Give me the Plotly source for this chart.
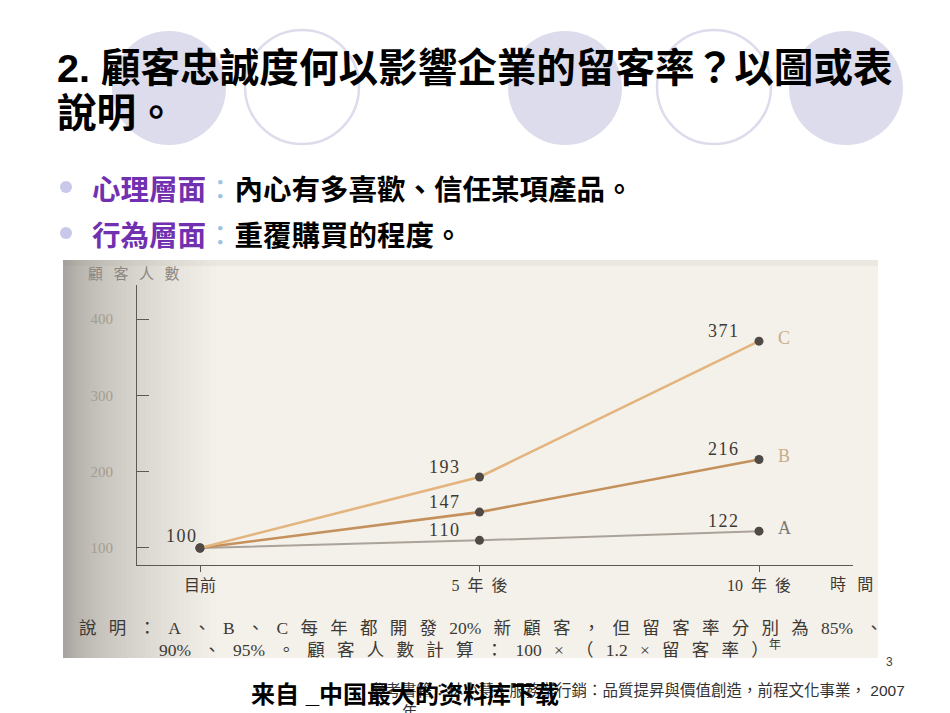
import plotly.graph_objects as go

# ---------------- data ----------------
periods = ["目前", "5 年 後", "10 年 後"]
series_names = ["A", "B", "C"]
values_A = [100, 110, 122]
values_B = [100, 147, 216]
values_C = [100, 193, 371]
y_tick_values = [100, 200, 300, 400]
y_tick_labels = ["100", "200", "300", "400"]

title_lines = ["2. 顧客忠誠度何以影響企業的留客率？以圖或表", "說明。"]
bullet_heads = ["心理層面", "行為層面"]
bullet_bodies = ["內心有多喜歡、信任某項產品。", "重覆購買的程度。"]
y_title = "顧客人數"
x_title = "時間"
caption_1 = "說 明 ： A 、 B 、 C 每 年 都 開 發 20% 新 顧 客 ， 但 留 客 率 分 別 為 85% 、"
caption_2 = "90% 、 95% 。 顧 客 人 數 計 算 ： 100 × （ 1.2 × 留 客 率 ）"
caption_sup = "年"
footer_main = "来自 _中国最大的资料库下载"
footer_ref = "參考書籍：林小慧，服務業行銷：品質提昇與價值創造，前程文化事業， 2007"
footer_ref_2 = "年"
page_no = "3"

# ---------------- helpers ----------------
W, H = 950, 713


def px(x):
    return x / W


def py(y):
    return 1 - y / H


def spaced(s, sep="\u2002\u2009"):
    return s.replace(" ", sep)


series_values = [values_A, values_B, values_C]
line_colors = ["#aaa39a", "#c4915c", "#e3b47e"]
line_widths = [2.0, 2.6, 2.6]
letter_colors = ["#7d7872", "#c8ad86", "#c8ad86"]

CJK_TC = "Noto Sans CJK TC"
SERIF = "Liberation Serif, Noto Sans CJK TC"

fig = go.Figure()

for name, vals, col, lw in zip(series_names, series_values, line_colors, line_widths):
    fig.add_trace(go.Scatter(
        x=periods, y=vals, mode="lines+markers", name=name,
        line=dict(color=col, width=lw),
        marker=dict(color="#4f4a45", size=9),
        showlegend=False, hoverinfo="x+y",
    ))

shapes = []
# scanned image background
shapes.append(dict(type="rect", xref="paper", yref="paper", layer="below",
                   x0=px(63), x1=px(878), y0=py(658), y1=py(260),
                   line=dict(width=0), fillcolor="#f4f1ea"))
# left darkening gradient of the scan (many thin overlapping bands)
n_g = 40
for k in range(n_g):
    w = 3 + 150 * ((k + 1) / n_g) ** 1.8
    shapes.append(dict(type="rect", xref="paper", yref="paper", layer="below",
                       x0=px(63), x1=px(63 + w), y0=py(658), y1=py(260),
                       line=dict(width=0), fillcolor="rgba(125,115,100,0.012)"))
# top shading strip
shapes.append(dict(type="rect", xref="paper", yref="paper", layer="below",
                   x0=px(63), x1=px(878), y0=py(266), y1=py(260),
                   line=dict(width=0), fillcolor="rgba(120,110,95,0.07)"))
# decorative circles
R = 57
circle_centers = [(169, 88, True), (302, 87, False), (565, 88, True), (714, 87, False), (846, 88, True)]
for cx, cy, filled in circle_centers:
    if filled:
        shapes.append(dict(type="circle", xref="paper", yref="paper", layer="below",
                           x0=px(cx - R), x1=px(cx + R), y0=py(cy + R), y1=py(cy - R),
                           line=dict(width=0), fillcolor="#dcdcec"))
    else:
        shapes.append(dict(type="circle", xref="paper", yref="paper", layer="below",
                           x0=px(cx - R), x1=px(cx + R), y0=py(cy + R), y1=py(cy - R),
                           line=dict(width=2.5, color="#dcdcec"), fillcolor="rgba(0,0,0,0)"))
# bullet dots
for i in range(len(bullet_heads)):
    by = 187 + 46 * i
    shapes.append(dict(type="circle", xref="paper", yref="paper", layer="above",
                       x0=px(60), x1=px(72), y0=py(by + 6), y1=py(by - 6),
                       line=dict(width=0), fillcolor="#c8c8ea"))

ann = []
# title
for i, t in enumerate(title_lines):
    ann.append(dict(text="<b>" + t + "</b>", xref="paper", yref="paper",
                    x=px(55), y=py(68 + 45 * i), xanchor="left", yanchor="middle",
                    showarrow=False, font=dict(family="Liberation Sans, " + CJK_TC, size=39.6, color="#000000")))
# bullets
for i, (hd, bd) in enumerate(zip(bullet_heads, bullet_bodies)):
    txt = ("<b><span style='color:#7030b0'>" + hd + "</span></b>"
           "<span style='color:#9cc3e6'>：</span><b>" + bd + "</b>")
    ann.append(dict(text=txt, xref="paper", yref="paper",
                    x=px(90), y=py(187 + 46 * i), xanchor="left", yanchor="middle",
                    showarrow=False, font=dict(family=CJK_TC, size=28.5, color="#000000")))

# data value labels
ann.append(dict(text="\u200a".join(str(values_A[0])), x=periods[0], y=values_A[0], xref="x", yref="y",
                xshift=-19, yshift=12, showarrow=False,
                font=dict(family=SERIF, size=18, color="#3d3935")))
for vals in series_values:
    for j in (1, 2):
        ann.append(dict(text="\u200a".join(str(vals[j])), x=periods[j], y=vals[j], xref="x", yref="y",
                        xshift=-36, yshift=10, showarrow=False,
                        font=dict(family=SERIF, size=18, color="#3d3935")))
for name, vals, lc in zip(series_names, series_values, letter_colors):
    ann.append(dict(text=name, x=periods[-1], y=vals[-1], xref="x", yref="y",
                    xshift=25, yshift=3, showarrow=False,
                    font=dict(family=SERIF, size=18, color=lc)))

# axis titles
ann.append(dict(text=spaced(" ".join(y_title)), xref="paper", yref="paper", x=px(134), y=py(272),
                xanchor="center", yanchor="middle", showarrow=False,
                font=dict(family=CJK_TC, size=15, color="#8c8782")))
ann.append(dict(text=spaced(" ".join(x_title)), xref="paper", yref="paper", x=px(851), y=py(583),
                xanchor="center", yanchor="middle", showarrow=False,
                font=dict(family=CJK_TC, size=16, color="#3d3935")))
# caption
ann.append(dict(text=spaced(caption_1), xref="paper", yref="paper", x=px(77), y=py(628),
                xanchor="left", yanchor="middle", showarrow=False,
                font=dict(family=SERIF, size=17.5, color="#3d3935")))
ann.append(dict(text=spaced(caption_2) + "<sup>" + caption_sup + "</sup>", xref="paper", yref="paper",
                x=px(157), y=py(649), xanchor="left", yanchor="middle", showarrow=False,
                font=dict(family=SERIF, size=17.5, color="#3d3935")))
# page number & footer
ann.append(dict(text=page_no, xref="paper", yref="paper", x=px(889), y=py(662),
                xanchor="center", yanchor="middle", showarrow=False,
                font=dict(family="Liberation Sans", size=12, color="#444444")))
ann.append(dict(text=footer_ref, xref="paper", yref="paper", x=px(368), y=py(690),
                xanchor="left", yanchor="middle", showarrow=False,
                font=dict(family="Liberation Sans, " + CJK_TC, size=15.5, color="#333333")))
ann.append(dict(text=footer_ref_2, xref="paper", yref="paper", x=px(400), y=py(711),
                xanchor="left", yanchor="middle", showarrow=False,
                font=dict(family=CJK_TC, size=15.5, color="#333333")))
ann.append(dict(text="<b>" + footer_main + "</b>", xref="paper", yref="paper", x=px(249), y=py(694),
                xanchor="left", yanchor="middle", showarrow=False,
                font=dict(family="Liberation Sans, Noto Sans CJK SC", size=24, color="#000000")))

# axis geometry (pixels of scanned chart)
x_left_px, x_right_px = 137, 853
y_top_px, y_bottom_px = 285, 565
x_range = [-0.2254, 2.3363]
y_range = [77.7, 444.6]

axis_col = "#5d5853"
fig.update_layout(
    width=W, height=H,
    margin=dict(l=0, r=0, t=0, b=0),
    paper_bgcolor="#ffffff", plot_bgcolor="rgba(0,0,0,0)",
    shapes=shapes, annotations=ann,
    xaxis=dict(domain=[px(x_left_px), px(x_right_px)], range=x_range, type="category",
               tickvals=periods, ticktext=[spaced(p, "\u2002") for p in periods],
               showline=True, linecolor=axis_col, linewidth=1.2, showgrid=False, zeroline=False,
               ticks="outside", ticklen=6, tickwidth=1.2, tickcolor=axis_col,
               tickfont=dict(family=SERIF, size=16, color="#3d3935"),
               anchor="y", fixedrange=True),
    yaxis=dict(domain=[py(y_bottom_px), py(y_top_px)], range=y_range,
               showline=True, linecolor=axis_col, linewidth=1.2, showgrid=False, zeroline=False,
               tickvals=y_tick_values, ticktext=y_tick_labels,
               ticks="inside", ticklen=12, tickwidth=1.2, tickcolor=axis_col,
               ticklabelstandoff=20,
               tickfont=dict(family=SERIF, size=15, color="#a59c92"),
               anchor="x", fixedrange=True),
    xaxis2=dict(overlaying="x", anchor="y", side="bottom", range=x_range,
                tickvals=[0, 1, 2], showticklabels=False, showline=False, showgrid=False,
                zeroline=False, ticks="inside", ticklen=7, tickwidth=1.2, tickcolor=axis_col,
                fixedrange=True),
    yaxis2=dict(overlaying="y", anchor="x", side="left", range=y_range,
                tickvals=y_tick_values, showticklabels=False, showline=False, showgrid=False,
                zeroline=False, ticks="outside", ticklen=5, tickwidth=1.2, tickcolor=axis_col,
                fixedrange=True),
)

fig.write_html("out.html", config={"displayModeBar": False},
               post_script="document.body.style.margin='0';document.body.style.overflow='hidden';")
